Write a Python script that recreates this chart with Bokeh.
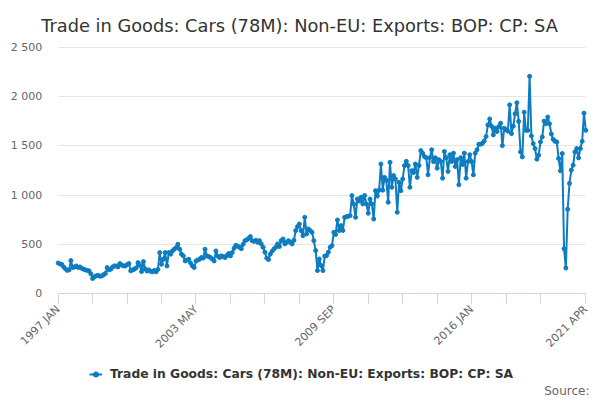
import numpy as np
from bokeh.plotting import figure
from bokeh.models import (Range1d, FixedTicker, Legend, LegendItem,
                          Label, ColumnDataSource)
from bokeh.embed import file_html
from bokeh.resources import INLINE

title_text = "Trade in Goods: Cars (78M): Non-EU: Exports: BOP: CP: SA"
series_name = "Trade in Goods: Cars (78M): Non-EU: Exports: BOP: CP: SA"
source_text = "Source:"

start_year = 1997
month_names = ["JAN", "FEB", "MAR", "APR", "MAY", "JUN",
               "JUL", "AUG", "SEP", "OCT", "NOV", "DEC"]

values = [
    # 1997 - 2000
    310, 300, 295, 270, 250, 235, 240, 335, 264, 270, 280, 264,
    270, 255, 247, 240, 235, 230, 200, 152, 170, 179, 185, 175,
    179, 190, 203, 264, 240, 247, 270, 280, 280, 270, 304, 290,
    280, 280, 295, 304, 230, 240, 247, 260, 314, 290, 223, 324,
    # 2001 - 2004
    250, 228, 240, 225, 220, 235, 220, 245, 416, 297, 348, 416,
    280, 416, 400, 433, 450, 466, 500, 450, 400, 382, 331, 340,
    348, 310, 280, 264, 331, 340, 348, 365, 360, 450, 382, 375,
    365, 350, 331, 433, 380, 365, 382, 375, 365, 385, 406, 382,
    # 2005 - 2008
    416, 460, 490, 480, 470, 455, 500, 537, 545, 560, 578, 537,
    530, 540, 520, 537, 504, 470, 420, 360, 345, 400, 430, 453,
    470, 504, 477, 537, 554, 504, 520, 537, 520, 504, 540, 640,
    680, 706, 639, 588, 774, 605, 656, 640, 622, 537, 436, 233,
    # 2009 - 2012
    351, 284, 233, 380, 385, 420, 470, 486, 622, 600, 747, 639,
    690, 640, 774, 781, 785, 791, 995, 910, 774, 961, 940, 978,
    910, 995, 910, 815, 960, 910, 757, 1045, 990, 1050, 1316, 1050,
    1180, 1150, 927, 1333, 1079, 1198, 1164, 825, 1130, 1045, 1164, 1300,
    # 2013 - 2016
    1343, 1300, 1079, 1248, 1230, 1316, 1180, 1300, 1452, 1426, 1392, 1380,
    1206, 1380, 1460, 1341, 1380, 1274, 1360, 1341, 1172, 1443, 1380, 1240,
    1410, 1341, 1426, 1290, 1360, 1105, 1380, 1310, 1426, 1172, 1341, 1410,
    1341, 1206, 1426, 1460, 1517, 1517, 1527, 1551, 1595, 1713, 1774, 1700,
    # 2017 - 2020
    1612, 1680, 1646, 1696, 1730, 1503, 1680, 1663, 1650, 1917, 1625, 1700,
    1827, 1938, 1749, 1439, 1388, 1843, 1658, 1658, 2207, 1601, 1523, 1473,
    1365, 1405, 1540, 1591, 1752, 1725, 1793, 1725, 1620, 1567, 1547, 1540,
    1372, 1247, 1422, 455, 259, 856, 1119, 1254, 1304, 1439, 1473, 1378,
    # 2021
    1473, 1547, 1833, 1658,
]

y_ticks = [0, 500, 1000, 1500, 2000, 2500]
y_tick_labels = ["0", "500", "1 000", "1 500", "2 000", "2 500"]

n = len(values)
months = [f"{start_year + i // 12} {month_names[i % 12]}" for i in range(n)]
xs = list(range(n))

tick_step = 19
x_ticks = [t for t in range(0, n, tick_step) if n - 1 - t >= 10] + [n - 1]
label_idx = [0, 76, 152, 228, n - 1]
x_overrides = {t: (months[t] if t in label_idx else "") for t in x_ticks}

BLUE = "#0d7cc1"
FONT = "DejaVu Sans"

# page geometry: the frame covers the whole canvas; the plotting area of the
# reference lies inside it, axes are pinned at the data origin
W, H = 600, 400
PL, PR, PT, PB = 57.7, 585.3, 47.0, 293.0
Y_MAX = 2500
ppx = (PR - PL) / (n - 1)
ppy = (PB - PT) / Y_MAX
x_range = Range1d(-PL / ppx, (n - 1) + (W - PR) / ppx)
y_range = Range1d(-(H - PB) / ppy, Y_MAX + PT / ppy)

p = figure(width=W, height=H, output_backend="svg", toolbar_location=None,
           x_range=x_range, y_range=y_range,
           min_border_left=0, min_border_right=0, min_border_top=0,
           min_border_bottom=0)
p.outline_line_color = None
p.background_fill_color = "white"
p.border_fill_color = "white"

src = ColumnDataSource(dict(x=xs, y=values, month=months))

# horizontal grid lines, limited to the data span
p.xgrid.grid_line_color = None
grid_ok = False
try:
    p.ygrid.cross_bounds = (0, n - 1)
    grid_ok = True
except Exception:
    grid_ok = False
if grid_ok:
    p.ygrid.grid_line_color = "#e6e6e6"
    p.ygrid.ticker = FixedTicker(ticks=y_ticks)
    p.ygrid.bounds = (0, Y_MAX)
else:
    p.ygrid.grid_line_color = None
    p.segment(x0=[xs[0]] * len(y_ticks), x1=[xs[-1]] * len(y_ticks),
              y0=y_ticks, y1=y_ticks, line_color="#e6e6e6", line_width=1,
              level="underlay")

r_line = p.line("x", "y", source=src, line_color=BLUE, line_width=2)
r_pts = p.scatter("x", "y", source=src, size=4, color=BLUE)

p.yaxis.fixed_location = 0
p.yaxis.ticker = FixedTicker(ticks=y_ticks)
p.yaxis.major_label_overrides = dict(zip(y_ticks, y_tick_labels))
p.yaxis.axis_line_color = None
p.yaxis.major_tick_line_color = None
p.yaxis.major_tick_out = 0
p.yaxis.major_tick_in = 0
p.yaxis.minor_tick_line_color = None
p.yaxis.minor_tick_out = 0
p.yaxis.major_label_text_font = FONT
p.yaxis.major_label_text_font_size = "11px"
p.yaxis.major_label_text_color = "#666666"
p.yaxis.major_label_standoff = 16

p.xaxis.fixed_location = 0
p.xaxis.bounds = (0, n - 1)
p.xaxis.ticker = FixedTicker(ticks=x_ticks)
p.xaxis.major_label_overrides = x_overrides
p.xaxis.axis_line_color = "#ccd6eb"
p.xaxis.major_tick_line_color = "#ccd6eb"
p.xaxis.major_tick_in = 0
p.xaxis.major_tick_out = 10
p.xaxis.minor_tick_line_color = None
p.xaxis.minor_tick_out = 0
p.xaxis.major_label_orientation = np.pi / 4
p.xaxis.major_label_text_font = FONT
p.xaxis.major_label_text_font_size = "11px"
p.xaxis.major_label_text_color = "#666666"
p.xaxis.major_label_standoff = 4

p.add_layout(Label(x=299, y=H - 25, x_units="screen", y_units="screen",
                   text=title_text, text_align="center",
                   text_baseline="alphabetic", text_font=FONT,
                   text_font_size="17.8px", text_color="#333333"))

legend = Legend(items=[LegendItem(label=series_name, renderers=[r_line, r_pts])],
                location=(89, 16), orientation="horizontal",
                padding=0, margin=0, spacing=0,
                glyph_width=13, glyph_height=20, label_height=20,
                label_standoff=8,
                label_text_font=FONT, label_text_font_size="12.3px",
                label_text_font_style="bold", label_text_color="#333333",
                border_line_color=None, background_fill_alpha=0)
p.add_layout(legend, "center")

p.add_layout(Label(x=589, y=10, x_units="screen", y_units="screen",
                   text=source_text, text_align="right",
                   text_baseline="alphabetic", text_font=FONT,
                   text_font_size="12px", text_color="#666666"))

open("out.html", "w").write(file_html(p, INLINE))
